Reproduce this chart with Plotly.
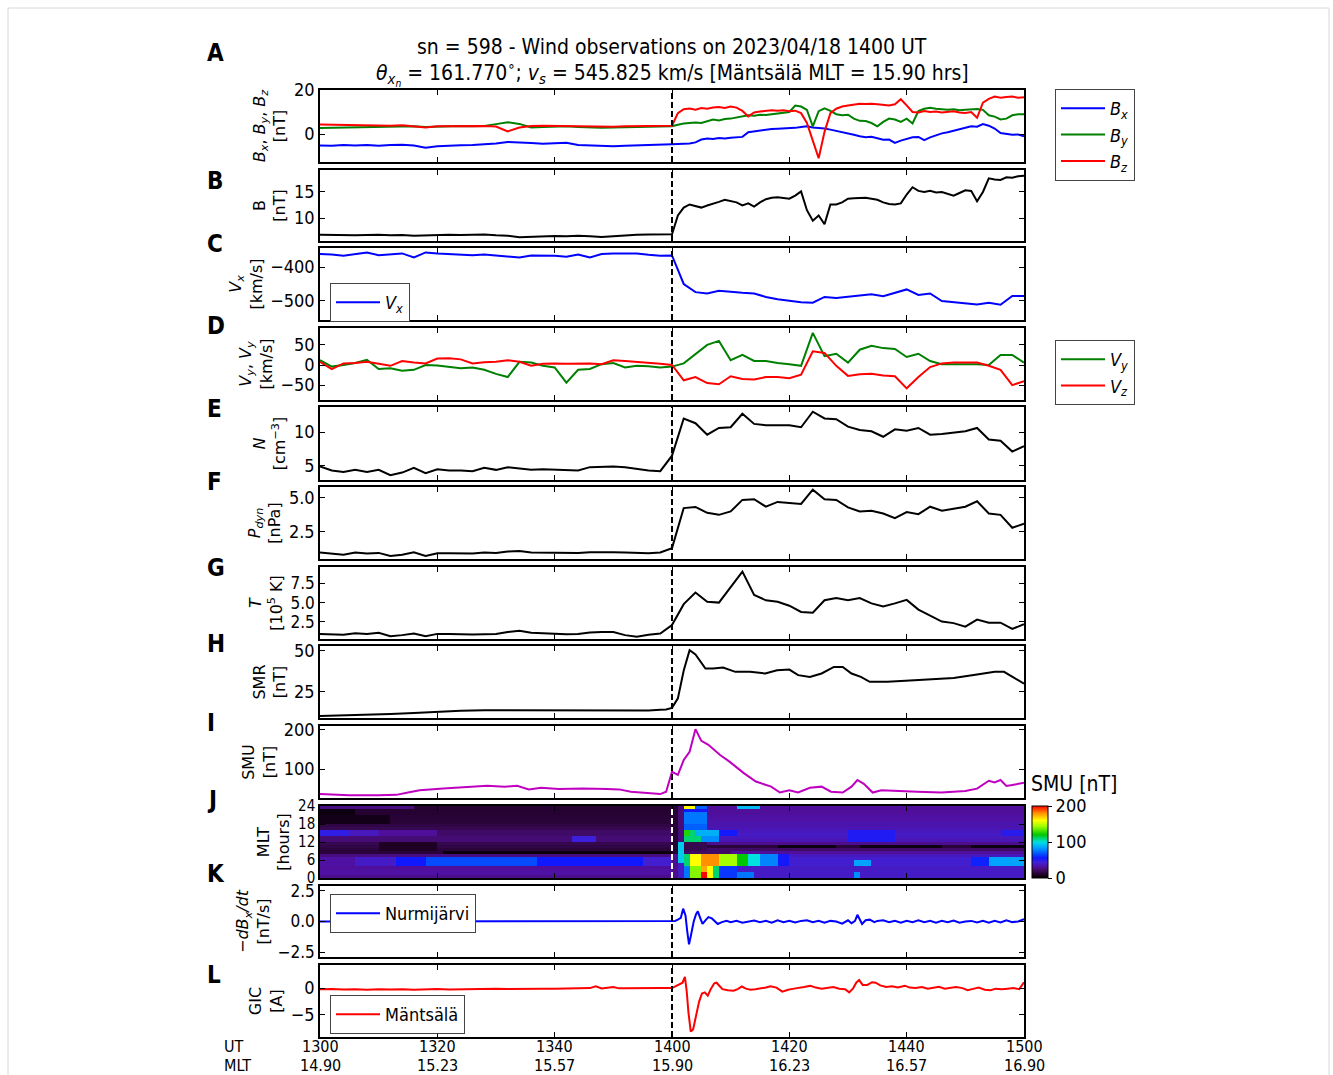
import plotly.graph_objects as go

W, H = 1333, 1075
def px(x): return x / W
def py(y): return 1 - y / H

FONT = "DejaVu Sans Condensed, Liberation Sans Narrow, DejaVu Sans, sans-serif"
FONT_ROT = "DejaVu Sans, sans-serif"

# ---------------- data ----------------
ut_ticks = [0, 20, 40, 60, 80, 100, 120]
ut_labels = ["1300", "1320", "1340", "1400", "1420", "1440", "1500"]
mlt_labels = ["14.90", "15.23", "15.57", "15.90", "16.23", "16.57", "16.90"]
shock_t = 60

# magnetic field: 2-min before 1400, 1-min after
t_mag = list(range(0, 60, 2)) + list(range(60, 121))
bx = [-5.2, -5.3, -5.0, -5.2, -5.0, -5.3, -5.0, -4.9, -5.2, -6.2, -5.6, -5.2, -5.1, -5.0, -4.8,
      -4.3, -3.6, -4.0, -4.1, -4.4, -4.3, -4.0, -5.0, -5.2, -5.4, -5.5, -5.3, -5.2, -5.1, -4.9,
      -4.6, -4.5, -4.4, -4.3, -3.8, -2.5, -2.0, -2.3, -1.8, -2.0, -1.7, -1.5, -1.3, 0.8, 1.2,
      1.8, 2.0, 2.3, 2.4, 2.5, 2.7, 2.8, 3.2, 3.5, 3.0, 2.8, 2.5, 2.0, 1.5, 1.0, 0.3, -0.3,
      -1.0, -1.5, -1.2, -2.0, -2.6, -2.5, -4.0, -3.0, -2.2, -1.5, -1.3, -2.8, -1.5, -0.5, 0.3,
      0.8, 1.5, 2.3, 3.0, 3.5, 3.3, 4.5, 3.8, 2.5, 0.5, 0.0, -0.3, -0.2, -1.0]
by = [2.7, 2.8, 2.9, 3.0, 3.1, 3.2, 3.0, 3.3, 3.5, 3.2, 3.4, 3.5, 3.6, 3.5, 3.7,
      4.5, 5.4, 4.6, 3.0, 3.2, 3.4, 3.5, 3.2, 3.0, 2.9, 3.0, 3.1, 3.2, 3.3, 3.4,
      3.5, 4.2, 4.8, 5.0, 5.2, 5.0, 5.8, 6.6, 6.2, 6.8, 7.0, 7.5, 8.0, 8.5, 8.3,
      8.8, 8.6, 9.0, 9.5, 9.6, 10.0, 12.9, 12.5, 11.0, 3.5, 10.4, 11.7, 10.5, 9.0, 8.5,
      8.8, 7.0, 6.0, 5.9, 5.0, 3.5, 5.5, 7.0, 6.6, 5.5, 7.0, 4.8, 10.4, 11.5, 11.9,
      11.5, 11.2, 11.0, 11.3, 10.8, 11.0, 11.2, 11.4, 11.0, 8.5, 7.9, 6.6, 7.0, 8.5, 9.0, 9.0]
bz = [4.3, 4.2, 4.0, 4.1, 3.9, 4.0, 3.8, 4.0, 3.6, 3.0, 3.5, 3.6, 3.5, 3.6, 3.7,
      3.4, 1.2, 3.0, 3.6, 3.8, 3.7, 3.6, 3.4, 3.3, 3.2, 3.3, 3.5, 3.6, 3.7, 3.8,
      3.8, 9.5, 11.3, 11.6, 11.0, 11.8, 11.5, 12.0, 12.3, 11.8, 12.5, 12.0, 10.5, 8.0, 9.8,
      10.2, 10.5, 10.8, 10.6, 10.8, 10.4, 10.6, 9.5, 5.0, -3.0, -11.0, 1.0, 9.5, 11.5, 12.5,
      13.0, 13.5, 13.8, 13.6, 13.8, 13.5, 13.2, 13.0, 13.5, 15.8, 13.0, 10.0, 9.8, 10.5, 10.0,
      10.2, 9.8, 10.0, 10.3, 9.8, 9.6, 10.0, 7.4, 14.3, 16.0, 17.0, 16.5, 16.8, 17.0, 16.5, 16.7]
b_tot = [6.8, 6.75, 6.8, 6.7, 6.75, 6.8, 6.7, 6.75, 6.6, 6.7, 6.75, 6.8, 6.75, 6.8, 6.85,
         6.7, 6.6, 6.3, 6.4, 6.5, 6.55, 6.5, 6.6, 6.5, 6.35, 6.5, 6.7, 6.8, 6.85, 6.9,
         6.9, 10.5, 12.0, 12.6, 12.3, 12.0, 12.4, 12.7, 13.1, 13.5, 13.3, 13.0, 12.4, 12.8, 12.2,
         13.0, 13.6, 13.9, 14.0, 13.8, 13.7, 14.3, 15.1, 11.5, 9.5, 10.5, 8.8, 12.6, 12.6, 13.0,
         13.7, 13.8, 13.8, 13.9, 13.7, 13.5, 13.0, 12.7, 12.6, 12.8, 14.5, 15.9, 15.2, 15.0, 15.2,
         14.9, 15.0, 14.7, 14.3, 14.8, 15.3, 15.2, 13.2, 15.0, 17.6, 17.4, 17.3, 17.8, 17.7, 18.0, 18.1]

# plasma, 2-min grid
t_pl = list(range(0, 121, 2))
vx = [-362, -363, -367, -362, -357, -365, -362, -360, -372, -357, -360, -362, -364, -365, -363,
      -366, -368, -372, -366, -366, -367, -370, -363, -372, -362, -360, -360, -360, -364, -367,
      -366, -450, -474, -478, -470, -474, -476, -478, -488, -495, -500, -504, -505, -488, -491,
      -487, -483, -480, -486, -476, -466, -482, -478, -500, -503, -506, -510, -505, -511, -485, -485]
vy = [12, -4, 0, 5, 13, -10, -8, -14, -12, 0, -1, -4, -8, -6, -12,
      -22, -30, 8, 6, -2, -6, -44, -12, -10, 2, 5, -6, -2, -3, -6,
      -4, 4, 27, 50, 60, 12, 25, 10, 10, 5, 2, -2, 80, 22, 28,
      6, 38, 48, 42, 40, 20, 28, 10, 2, 2, 2, 2, 0, 25, 25, 6]
vz = [8, -10, 4, 5, 8, 3, -2, 10, 6, 4, 16, 17, 14, 4, 7,
      8, 12, 8, -2, 3, 4, 3, 4, 4, 2, 12, 10, 8, 5, 3,
      0, -38, -30, -45, -48, -28, -35, -36, -30, -30, -33, -24, 34, 30, -2,
      -27, -23, -22, -26, -28, -58, -30, -5, 4, 6, 6, 6, -2, -12, -50, -40]
dens = [4.9, 4.3, 4.1, 4.4, 4.1, 4.4, 3.6, 4.0, 4.7, 3.9, 4.5, 4.3, 4.3, 4.2, 4.7,
        4.4, 4.8, 4.6, 4.4, 4.5, 4.4, 4.4, 4.3, 4.8, 4.85, 4.9, 4.8, 4.5, 4.3, 4.2,
        6.5, 12.0, 11.3, 9.6, 10.6, 10.7, 12.7, 11.2, 11.0, 11.0, 11.0, 10.7, 13.0, 12.0, 11.9,
        10.8, 10.3, 10.1, 9.3, 10.4, 10.2, 10.6, 9.6, 9.7, 9.9, 10.1, 10.6, 8.9, 8.7, 7.1, 7.9]
pdyn = [0.98, 0.88, 0.82, 0.97, 0.9, 0.95, 0.73, 0.82, 1.0, 0.73, 0.92, 0.92, 0.92, 0.9, 0.98,
        0.95, 1.05, 1.08, 0.98, 0.97, 0.98, 0.93, 0.95, 1.0, 1.02, 1.0, 0.98, 0.95, 0.93, 0.98,
        1.3, 4.25, 4.33, 3.9, 3.75, 4.0, 4.85, 4.9, 4.35, 4.7, 4.65, 4.55, 5.6, 4.9, 4.85,
        4.3, 4.0, 4.05, 3.85, 3.5, 3.95, 3.8, 4.35, 4.05, 4.2, 4.35, 4.75, 3.85, 3.75, 2.8, 3.1]
temp = [0.96, 0.9, 0.85, 1.05, 0.96, 1.1, 0.65, 0.8, 1.0, 0.65, 0.96, 0.96, 0.9, 0.88, 0.92,
        0.95, 1.2, 1.35, 1.1, 1.05, 0.95, 0.9, 0.95, 1.15, 1.2, 1.2, 0.8, 0.6, 0.85, 1.0,
        2.1, 4.8, 6.3, 5.1, 5.0, 7.0, 9.0, 6.0, 5.3, 5.1, 4.6, 3.8, 3.7, 5.3, 5.6,
        5.3, 5.6, 4.9, 4.5, 4.9, 5.35, 4.1, 3.3, 2.55, 2.35, 1.9, 2.8, 2.4, 2.4, 1.6, 2.2]

# SMR / SMU indices
t_smr = [0, 4, 8, 12, 16, 20, 24, 28, 32, 36, 40, 44, 48, 52, 56, 58, 59, 60, 61, 62, 63, 64,
         65, 65.7, 67, 68.7, 70.8, 73.3, 75.9, 77.9, 80, 81.5, 83.5, 85.5, 87.6, 89.1, 90.6,
         92.2, 93.7, 96.7, 99.8, 103.9, 108, 112, 115, 116.6, 118.1, 120]
smr = [10.2, 10.5, 10.9, 11.4, 12.0, 12.8, 13.5, 13.8, 13.8, 13.5, 13.4, 13.6, 13.6, 13.5, 13.6,
       14.0, 14.2, 15.2, 21.0, 38.0, 50.4, 47.8, 43.0, 39.2, 39.2, 39.8, 37.2, 37.2, 36.2, 38.2,
       38.6, 35.2, 34.1, 36.2, 40.2, 40.2, 36.2, 34.1, 31.1, 31.1, 31.7, 32.5, 33.5, 35.6, 37.2,
       37.2, 34.1, 30.0]
t_smu = [0, 5, 10, 13, 15, 17, 21, 25.5, 28.5, 31.5, 33.6, 35.6, 37.7, 40.7, 44.8, 48.9, 51, 53,
         56, 58, 59, 60, 61, 62, 63, 64, 65, 66.2, 68.2, 69.8, 72.3, 74.3, 76.9, 78.4, 80, 81.5,
         83.5, 85.5, 87.1, 89.1, 90.6, 91.6, 92.7, 94.2, 95.7, 97.8, 101.8, 105.9, 110, 112, 114,
         115, 116, 117, 118, 120]
smu = [36, 33, 33, 34, 40, 46, 50, 55, 57, 55, 57, 48, 52, 49, 50, 49, 48, 42,
       39, 36, 42, 93, 85, 123, 144, 202, 172, 162, 136, 119, 89, 68, 55, 40, 46, 40,
       52, 55, 42, 40, 55, 72, 62, 40, 46, 44, 42, 40, 44, 50, 70,
       66, 72, 57, 59, 65]

# SMU by MLT (heatmap): background per MLT hour + patches (t0, t1, mlt0, mlt1, value)
mlt_base_pre = [28, 32, 32, 30, 34, 34, 34, 26, 14, 14, 16, 18, 24, 24, 22, 22, 18, 16, 14, 13, 13, 12, 12, 12]
mlt_base_post = [40, 40, 40, 40, 42, 42, 42, 38, 30, 22, 14, 28, 36, 38, 40, 38, 36, 34, 34, 32, 32, 30, 30, 30]
smu_patches = [
    (0, 16, 23, 24, 26), (0, 6, 21, 23, 4), (0, 12, 18, 21, 6),
    (0, 5, 14, 16, 48), (5, 10, 14, 16, 38), (10, 20, 14, 16, 30),
    (43, 47, 12, 14, 45), (10, 20, 9, 12, 9), (21, 60, 8, 9, 3),
    (0, 6, 4, 7, 32), (6, 13, 4, 7, 40), (13, 18, 4, 7, 56), (18, 37, 4, 7, 66),
    (37, 55, 4, 7, 56), (55, 60, 4, 7, 42),
    (60, 61, 8, 24, 12), (60, 61, 0, 8, 28),
    (61, 62, 5, 12, 95), (61, 62, 12, 24, 25), (61, 62, 0, 5, 40),
    (62, 63, 0, 4, 75), (63, 65, 0, 4, 140), (65, 66, 0, 2, 200), (65, 66, 2, 4, 175),
    (66, 67, 0, 4, 160), (67, 68, 0, 4, 110), (68, 71, 0, 4, 62), (71, 74, 0, 2, 75),
    (62, 63, 4, 8, 110), (63, 65, 4, 8, 160), (65, 68, 4, 8, 180), (68, 71, 4, 8, 145),
    (71, 73, 4, 8, 120), (73, 75, 4, 8, 100), (75, 78, 4, 8, 78), (78, 80, 4, 8, 55),
    (62, 70, 8, 9, 22), (62, 66, 9, 12, 18),
    (78, 88, 10, 11, 4), (92, 106, 10, 11, 4), (111, 120, 10, 11, 4),
    (62, 65, 12, 14, 110), (65, 68, 12, 14, 80),
    (62, 63, 14, 16, 125), (63, 64, 14, 16, 110), (64, 68, 14, 16, 88), (68, 71, 14, 16, 55),
    (62, 66, 16, 18, 70), (62, 66, 18, 22, 75), (62, 66, 22, 23, 55),
    (62, 64, 23, 24, 160), (64, 66, 23, 24, 70), (71, 75, 23, 24, 90),
    (91, 94, 4, 6, 85), (91, 92, 0, 2, 80), (111, 114, 4, 7, 58), (114, 120, 4, 7, 85),
    (90, 98, 12, 16, 52), (116, 120, 14, 16, 50),
]

# ground magnetometer dBx/dt and GIC
t_dbdt = [0, 10, 20, 30, 40, 50, 60, 60.5, 61, 61.5, 61.9, 62.3, 62.6, 62.9, 63.2, 63.7, 64.1, 64.4,
          64.8, 65.2, 65.7, 66.2, 66.8, 67.4, 67.8, 68.5, 69.3, 70, 71, 72, 73, 74, 75, 76, 77, 78,
          79, 80, 81, 82, 83, 84, 85, 86, 87, 88, 89, 90, 90.6, 91.2, 91.6, 92.4, 93, 93.7, 94.5,
          95, 96, 97, 98, 99, 100, 101, 102, 103, 104, 105, 106, 107, 108, 109, 110, 111, 112, 113,
          114, 115, 116, 117, 118, 119, 120]
dbdt = [0.0, 0.0, 0.0, 0.0, 0.0, 0.0, 0.0, 0.05, 0.15, 0.3, 1.05, 0.5, -0.8, -1.86, -1.2, 0.0, 0.6, 0.83,
        0.3, -0.2, 0.1, 0.36, 0.25, -0.05, -0.2, -0.05, 0.05, -0.05, 0.05, -0.1, 0.02, 0.08, -0.05, 0.05, -0.1, 0.1,
        -0.05, 0.05, -0.08, 0.05, 0.1, -0.05, 0.05, -0.1, 0.05, 0.0, -0.18, 0.1, -0.15, 0.05, 0.55, -0.2, 0.1, 0.15, -0.05,
        0.05, 0.1, -0.05, 0.05, -0.1, 0.05, -0.05, 0.1, -0.05, 0.05, -0.1, 0.05, -0.05, 0.08, -0.1, 0.0, 0.05, -0.08, 0.05,
        -0.1, 0.05, -0.08, 0.1, -0.05, 0.0, 0.2]
t_gic = [0, 2, 4, 6, 8, 10, 12, 14, 16, 18, 20, 22, 24, 26, 28, 30, 32, 34, 36, 38, 40, 42, 44, 46,
         47, 48, 50, 51, 52, 54, 56, 58, 60, 61, 61.8, 62.2, 62.5, 62.8, 63.2, 63.6, 64.1, 64.6,
         65.1, 65.6, 66.1, 66.6, 67.2, 67.6, 68.1, 68.6, 69.5, 70.5, 71.2, 71.9, 72.6, 73.4, 74.2,
         75, 76, 76.8, 77.8, 78.8, 79.8, 80.8, 81.5, 82.5, 83.6, 84.5, 85.5, 86.5, 87.5, 88.5, 89.5,
         90.2, 90.9, 91.4, 91.9, 92.5, 93.3, 94.1, 94.7, 95.5, 96.5, 97.5, 98.5, 99.7, 100.5, 101.5,
         102.6, 103.6, 104.5, 105.5, 106.5, 107.5, 108.4, 109.5, 110.4, 111.5, 112.3, 113.3, 114.3,
         115.2, 116.2, 117.2, 118.2, 119.2, 120]
gic = [-0.2, -0.15, -0.25, -0.2, -0.3, -0.2, -0.25, -0.2, -0.3, -0.2, -0.15, -0.25, -0.2, -0.15, -0.2,
       -0.1, -0.15, -0.1, -0.15, -0.1, -0.1, -0.05, -0.1, 0.0, 0.35, -0.05, 0.2, -0.05, -0.05, 0.0,
       -0.05, 0.0, 0.0, 0.5, 1.0, 2.1, -0.5, -4.5, -8.1, -7.7, -5.0, -2.6, -1.0, -0.8, -1.4, -0.2,
       0.9, 1.0, 0.4, -0.2, -0.4, -0.5, -0.2, 0.3, -0.1, -0.3, -0.2, -0.1, 0.1, 0.35, 0.1, -0.65,
       -0.3, -0.1, 0.0, 0.2, 0.45, 0.1, -0.1, 0.1, 0.2, -0.1, -0.2, -0.8, 0.0, 1.0, 1.5, 0.6, 0.6,
       1.1, 1.0, 0.5, 0.2, 0.35, 0.1, 0.45, 0.1, 0.0, 0.2, -0.1, 0.1, 0.25, -0.1, 0.05, 0.2, 0.0,
       -0.4, -0.1, 0.1, -0.3, -0.4, -0.1, -0.2, -0.1, 0.0, -0.2, 1.1]

# ---------------- build heatmap matrix ----------------
t_edges = list(range(0, 121))
mlt_edges = list(range(0, 25))
z = [[(mlt_base_pre[h] if m < shock_t else mlt_base_post[h]) for m in range(120)] for h in range(24)]
for (t0, t1, h0, h1, v) in smu_patches:
    for h in range(h0, h1):
        for m in range(t0, t1):
            z[h][m] = v

cscale = [[0.0, "#000000"], [0.05, "#200028"], [0.10, "#3c0a5a"], [0.15, "#500f9a"],
          [0.22, "#4020d8"], [0.28, "#1018ff"], [0.35, "#0060ff"], [0.42, "#00a0ff"],
          [0.50, "#00e0e0"], [0.60, "#00c800"], [0.72, "#a0ff00"], [0.80, "#ffff00"],
          [0.90, "#ff9000"], [1.0, "#ff0000"]]

# ---------------- layout geometry ----------------
panels = [  # (top, bottom, yrange, tickvals, ticktext, title, tick font size)
    (90, 162, [-12.7, 20], [0, 20], None, "<i>B<sub>x</sub></i>, <i>B<sub>y</sub></i>, <i>B<sub>z</sub></i><br>[nT]", 18),
    (170, 241, [5.6, 19.2], [10, 15], None, "B<br>[nT]", 18),
    (248, 320, [-556, -344], [-500, -400], None, "<i>V<sub>x</sub></i><br>[km/s]", 18),
    (328, 400, [-87, 92], [-50, 0, 50], None, "<i>V<sub>y</sub></i>, <i>V<sub>y</sub></i><br>[km/s]", 18),
    (407, 480, [2.9, 13.7], [5, 10], None, "<i>N</i><br>[cm<sup>−3</sup>]", 18),
    (487, 559, [0.5, 5.8], [2.5, 5.0], ["2.5", "5.0"], "<i>P<sub>dyn</sub></i><br>[nPa]", 18),
    (567, 639, [0.3, 9.6], [2.5, 5.0, 7.5], ["2.5", "5.0", "7.5"], "<i>T</i><br>[10<sup>5</sup> K]", 17),
    (646, 718, [9, 53], [25, 50], None, "SMR<br>[nT]", 18),
    (726, 798, [26, 210], [100, 200], None, "SMU<br>[nT]", 18),
    (806, 878, [0, 24], [0, 6, 12, 18, 24], None, "MLT<br>[hours]", 15),
    (886, 957, [-2.9, 2.9], [-2.5, 0, 2.5], ["−2.5", "0.0", "2.5"], "−<i>dB<sub>x</sub>/dt</i><br>[nT/s]", 17),
    (965, 1037, [-9.1, 4.3], [-5, 0], None, "GIC<br>[A]", 18),
]
letters = [("A", 53), ("B", 181), ("C", 244), ("D", 326), ("E", 409), ("F", 482),
           ("G", 568), ("H", 644), ("I", 723), ("J", 800), ("K", 874), ("L", 975)]

fig = go.Figure()

def ax(i):
    return ("x" if i == 1 else f"x{i}"), ("y" if i == 1 else f"y{i}")

def line(i, x, y, color, name=None, legend=None):
    xa, ya = ax(i)
    fig.add_trace(go.Scatter(x=x, y=y, mode="lines", line=dict(color=color, width=2),
                             xaxis=xa, yaxis=ya, name=name or "",
                             showlegend=legend is not None, legend=legend or "legend"))

line(1, t_mag, bx, "#0000ff", "<i>B<sub>x</sub></i>", "legend")
line(1, t_mag, by, "#008000", "<i>B<sub>y</sub></i>", "legend")
line(1, t_mag, bz, "#ff0000", "<i>B<sub>z</sub></i>", "legend")
line(2, t_mag, b_tot, "#000000")
line(3, t_pl, vx, "#0000ff", "<i>V<sub>x</sub></i>", "legend2")
line(4, t_pl, vy, "#008000", "<i>V<sub>y</sub></i>", "legend3")
line(4, t_pl, vz, "#ff0000", "<i>V<sub>z</sub></i>", "legend3")
line(5, t_pl, dens, "#000000")
line(6, t_pl, pdyn, "#000000")
line(7, t_pl, temp, "#000000")
line(8, t_smr, smr, "#000000")
line(9, t_smu, smu, "#c000c0")

fig.add_trace(go.Heatmap(x=t_edges, y=mlt_edges, z=z, xaxis="x10", yaxis="y10",
                         colorscale=cscale, zmin=0, zmax=200, zsmooth=False, showscale=True,
                         hoverinfo="skip",
                         colorbar=dict(x=px(1032), xanchor="left", y=py(878), yanchor="bottom",
                                       len=72 / H, lenmode="fraction", thickness=16,
                                       thicknessmode="pixels", xpad=0, ypad=0,
                                       outlinewidth=1, outlinecolor="black",
                                       tickvals=[0, 100, 200], ticks="outside", ticklen=4,
                                       tickcolor="black",
                                       tickfont=dict(size=18, family=FONT, color="black"))))

line(11, t_dbdt, dbdt, "#0000ff", "Nurmijärvi", "legend4")
line(12, t_gic, gic, "#ff0000", "Mäntsälä", "legend5")

layout = dict(width=W, height=H, margin=dict(l=0, r=0, t=0, b=0, autoexpand=False),
              paper_bgcolor="white", plot_bgcolor="white",
              font=dict(family=FONT, size=17, color="black"))

for i, (top, bot, yr, tv, tt, title, tfs) in enumerate(panels, start=1):
    xa, ya = ax(i)
    xkey = "xaxis" if i == 1 else f"xaxis{i}"
    ykey = "yaxis" if i == 1 else f"yaxis{i}"
    xd = dict(domain=[px(320), px(1024)], anchor=ya, range=[0, 120],
              tickvals=ut_ticks, ticks="inside", ticklen=5, tickwidth=1.2, tickcolor="black",
              showline=True, linewidth=1.5, linecolor="black", mirror="ticks",
              showgrid=False, zeroline=False, showticklabels=False, automargin=False)
    if i > 1:
        xd["matches"] = "x"
    layout[xkey] = xd
    yd = dict(domain=[py(bot), py(top)], anchor=xa, range=yr, tickvals=tv,
              ticks="inside", ticklen=5, tickwidth=1.2, tickcolor="black",
              showline=True, linewidth=1.5, linecolor="black", mirror="ticks",
              showgrid=False, zeroline=False, tickfont=dict(size=tfs, family=FONT),
              automargin=False,
              title=dict(text=title, standoff=4, font=dict(size=16, family=FONT_ROT)))
    if tt is not None:
        yd["ticktext"] = tt
    layout[ykey] = yd

def legend_box(x, y):
    return dict(x=px(x), y=py(y), xanchor="left", yanchor="top", bgcolor="white",
                bordercolor="#444444", borderwidth=1, font=dict(size=18, family=FONT),
                itemwidth=44, tracegroupgap=0)

layout["legend"] = legend_box(1055, 89)
layout["legend2"] = legend_box(330, 283)
layout["legend3"] = legend_box(1055, 340)
layout["legend4"] = legend_box(330, 894)
layout["legend5"] = legend_box(330, 995)

shapes = []
for i in range(1, 13):
    xa, ya = ax(i)
    shapes.append(dict(type="line", xref=xa, yref=f"{ya} domain", x0=shock_t, x1=shock_t,
                       y0=0, y1=1, line=dict(color="white" if i == 10 else "black",
                                             width=2, dash="6px,3px")))
shapes.append(dict(type="rect", xref="paper", yref="paper", x0=px(8), x1=px(1329),
                   y0=-0.01, y1=py(8), line=dict(color="#d8d8d8", width=1)))
layout["shapes"] = shapes

ann = []
for letter, yy in letters:
    ann.append(dict(text=f"<b>{letter}</b>", x=px(205), y=py(yy), xref="paper", yref="paper",
                    xanchor="left", yanchor="middle", showarrow=False,
                    font=dict(size=24, family=FONT)))
ann.append(dict(text="sn = 598 - Wind observations on 2023/04/18 1400 UT", x=px(672), y=py(47),
                xref="paper", yref="paper", xanchor="center", yanchor="middle", showarrow=False,
                font=dict(size=21, family=FONT)))
ann.append(dict(text="<i>θ<sub>x<sub>n</sub></sub></i> = 161.770<sup>∘</sup>; <i>v<sub>s</sub></i> = 545.825 km/s [Mäntsälä MLT = 15.90 hrs]",
                x=px(672), y=py(73), xref="paper", yref="paper", xanchor="center",
                yanchor="middle", showarrow=False, font=dict(size=21, family=FONT)))
# bottom time axis labels (UT and MLT rows) at the shared tick positions
UT_Y, MLT_Y, XFS = 1046, 1065, 16
for tv, ut, mlt in zip(ut_ticks, ut_labels, mlt_labels):
    ann.append(dict(text=ut, x=tv, y=py(UT_Y), xref="x12", yref="paper", xanchor="center",
                    yanchor="middle", showarrow=False, font=dict(size=XFS, family=FONT)))
    ann.append(dict(text=mlt, x=tv, y=py(MLT_Y), xref="x12", yref="paper", xanchor="center",
                    yanchor="middle", showarrow=False, font=dict(size=XFS, family=FONT)))
ann.append(dict(text="UT", x=px(222), y=py(UT_Y), xref="paper", yref="paper", xanchor="left",
                yanchor="middle", showarrow=False, font=dict(size=XFS, family=FONT)))
ann.append(dict(text="MLT", x=px(222), y=py(MLT_Y), xref="paper", yref="paper", xanchor="left",
                yanchor="middle", showarrow=False, font=dict(size=XFS, family=FONT)))
ann.append(dict(text="SMU [nT]", x=px(1029), y=py(784), xref="paper", yref="paper",
                xanchor="left", yanchor="middle", showarrow=False, font=dict(size=21, family=FONT)))
layout["annotations"] = ann

fig.update_layout(**layout)
fig.write_html("out.html", config={"displayModeBar": False},
               post_script="document.body.style.margin='0';document.body.style.overflow='hidden';")
